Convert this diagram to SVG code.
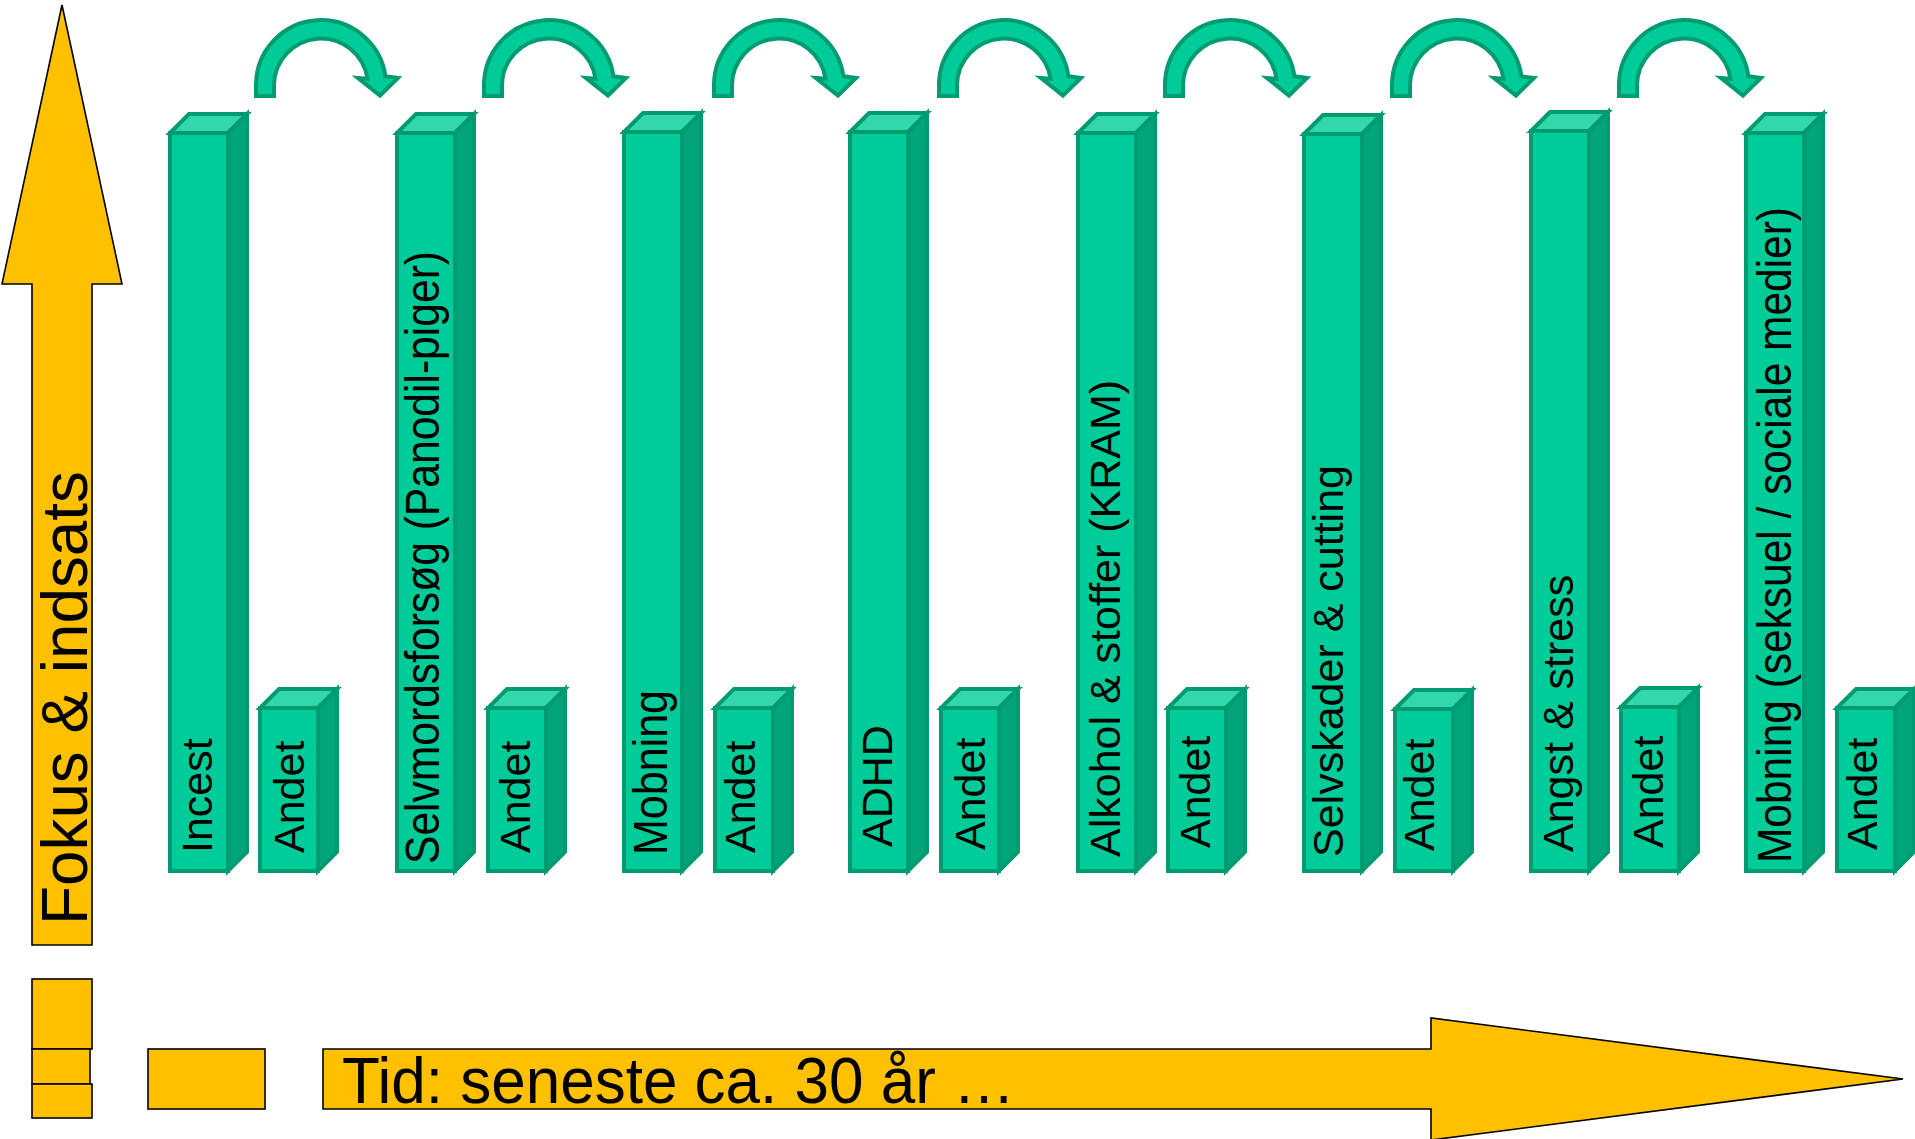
<svg xmlns="http://www.w3.org/2000/svg" width="1915" height="1139" viewBox="0 0 1915 1139">
<style>
.front{fill:#00CC99;stroke:#009B70;stroke-width:4;stroke-linejoin:miter}
.top{fill:#33D8AA;stroke:#009B70;stroke-width:4;stroke-linejoin:miter}
.side{fill:#00A67A;stroke:#009B70;stroke-width:4;stroke-linejoin:miter}
.carrow{fill:#00CC99;stroke:#009B70;stroke-width:4;stroke-linejoin:miter}
.yel{fill:#FFC000;stroke:#000;stroke-width:1.6}
.lbl{font-family:"Liberation Sans",Arial,sans-serif;font-size:43px;fill:#000}
.lblc{font-family:"Liberation Sans",Arial,sans-serif;font-size:48px;fill:#000}
.big{font-family:"Liberation Sans",Arial,sans-serif;font-size:64px;fill:#000}
</style>
<defs>
<path id="carr" class="carrow" d="M 2 96 L 2 85.3 A 65 65 0 0 1 131.4 76.3 L 144 78 L 126 95.5 L 104 78 L 113.5 78.8 A 47 47 0 0 0 20 85.3 L 20 96 Z"/>
</defs>

<g id="axis-y">
<polygon class="yel" points="62,5 122,284 92,284 92,945 32,945 32,284 2,284"/>
<text class="big" transform="translate(87,925) rotate(-90)" textLength="454" lengthAdjust="spacingAndGlyphs">Fokus &amp; indsats</text>
</g>

<g id="blocks">
<rect class="yel" x="32" y="979" width="60" height="70"/>
<rect class="yel" x="32" y="1049" width="58" height="35"/>
<rect class="yel" x="32" y="1084" width="60" height="34"/>
<rect class="yel" x="148" y="1049" width="117" height="60"/>
</g>

<g id="axis-x">
<polygon class="yel" points="323,1049 1431,1049 1431,1018 1903,1079 1431,1140 1431,1109 323,1109"/>
<text class="big" x="342" y="1103" textLength="673" lengthAdjust="spacingAndGlyphs">Tid: seneste ca. 30 år …</text>
</g>

<g id="bar-incest">
<rect class="front" x="170" y="133" width="58" height="738"/>
<polygon class="top" points="170,133 189,114 247,114 228,133"/>
<polygon class="side" points="228,133 247,114 247,852 228,871"/>
<text class="lbl" transform="translate(212,853) rotate(-90)">Incest</text>
</g>
<g id="bar-andet-1">
<rect class="front" x="260" y="708" width="58" height="163"/>
<polygon class="top" points="260,708 279,689 337,689 318,708"/>
<polygon class="side" points="318,708 337,689 337,852 318,871"/>
<text class="lbl" transform="translate(304,853) rotate(-90)">Andet</text>
</g>

<g id="bar-selvmord">
<rect class="front" x="397" y="133" width="58" height="738"/>
<polygon class="top" points="397,133 416,114 474,114 455,133"/>
<polygon class="side" points="455,133 474,114 474,852 455,871"/>
<text class="lblc" transform="translate(439,864) rotate(-90)" textLength="613" lengthAdjust="spacingAndGlyphs">Selvmordsforsøg (Panodil-piger)</text>
</g>
<g id="bar-andet-2">
<rect class="front" x="488" y="708" width="58" height="163"/>
<polygon class="top" points="488,708 507,689 565,689 546,708"/>
<polygon class="side" points="546,708 565,689 565,852 546,871"/>
<text class="lbl" transform="translate(530,853) rotate(-90)">Andet</text>
</g>

<g id="bar-mobning">
<rect class="front" x="624" y="132" width="58" height="739"/>
<polygon class="top" points="624,132 643,113 701,113 682,132"/>
<polygon class="side" points="682,132 701,113 701,852 682,871"/>
<text class="lblc" transform="translate(667,855) rotate(-90)" textLength="165" lengthAdjust="spacingAndGlyphs">Mobning</text>
</g>
<g id="bar-andet-3">
<rect class="front" x="715" y="708" width="58" height="163"/>
<polygon class="top" points="715,708 734,689 792,689 773,708"/>
<polygon class="side" points="773,708 792,689 792,852 773,871"/>
<text class="lbl" transform="translate(755,853) rotate(-90)">Andet</text>
</g>

<g id="bar-adhd">
<rect class="front" x="850" y="132" width="58" height="739"/>
<polygon class="top" points="850,132 869,113 927,113 908,132"/>
<polygon class="side" points="908,132 927,113 927,852 908,871"/>
<text class="lbl" transform="translate(892,847) rotate(-90)">ADHD</text>
</g>
<g id="bar-andet-4">
<rect class="front" x="941" y="708" width="58" height="163"/>
<polygon class="top" points="941,708 960,689 1018,689 999,708"/>
<polygon class="side" points="999,708 1018,689 1018,852 999,871"/>
<text class="lbl" transform="translate(985,850) rotate(-90)">Andet</text>
</g>

<g id="bar-alkohol">
<rect class="front" x="1078" y="133" width="58" height="738"/>
<polygon class="top" points="1078,133 1097,114 1155,114 1136,133"/>
<polygon class="side" points="1136,133 1155,114 1155,852 1136,871"/>
<text class="lbl" transform="translate(1120,857) rotate(-90)">Alkohol &amp; stoffer (KRAM)</text>
</g>
<g id="bar-andet-5">
<rect class="front" x="1168" y="708" width="58" height="163"/>
<polygon class="top" points="1168,708 1187,689 1245,689 1226,708"/>
<polygon class="side" points="1226,708 1245,689 1245,852 1226,871"/>
<text class="lbl" transform="translate(1210,848) rotate(-90)">Andet</text>
</g>

<g id="bar-selvskader">
<rect class="front" x="1304" y="134" width="58" height="737"/>
<polygon class="top" points="1304,134 1323,115 1381,115 1362,134"/>
<polygon class="side" points="1362,134 1381,115 1381,852 1362,871"/>
<text class="lbl" transform="translate(1343,857) rotate(-90)">Selvskader &amp; cutting</text>
</g>
<g id="bar-andet-6">
<rect class="front" x="1395" y="709" width="58" height="162"/>
<polygon class="top" points="1395,709 1414,690 1472,690 1453,709"/>
<polygon class="side" points="1453,709 1472,690 1472,852 1453,871"/>
<text class="lbl" transform="translate(1434,851) rotate(-90)">Andet</text>
</g>

<g id="bar-angst">
<rect class="front" x="1531" y="131" width="58" height="740"/>
<polygon class="top" points="1531,131 1550,112 1608,112 1589,131"/>
<polygon class="side" points="1589,131 1608,112 1608,852 1589,871"/>
<text class="lbl" transform="translate(1573,852) rotate(-90)">Angst &amp; stress</text>
</g>
<g id="bar-andet-7">
<rect class="front" x="1621" y="707" width="58" height="164"/>
<polygon class="top" points="1621,707 1640,688 1698,688 1679,707"/>
<polygon class="side" points="1679,707 1698,688 1698,852 1679,871"/>
<text class="lbl" transform="translate(1663,848) rotate(-90)">Andet</text>
</g>

<g id="bar-mobning-2">
<rect class="front" x="1746" y="133" width="58" height="738"/>
<polygon class="top" points="1746,133 1765,114 1823,114 1804,133"/>
<polygon class="side" points="1804,133 1823,114 1823,852 1804,871"/>
<text class="lblc" transform="translate(1791,863) rotate(-90)" textLength="656" lengthAdjust="spacingAndGlyphs">Mobning (seksuel / sociale medier)</text>
</g>
<g id="bar-andet-8">
<rect class="front" x="1837" y="708" width="58" height="163"/>
<polygon class="top" points="1837,708 1856,689 1914,689 1895,708"/>
<polygon class="side" points="1895,708 1914,689 1914,852 1895,871"/>
<text class="lbl" transform="translate(1877,850) rotate(-90)">Andet</text>
</g>

<g id="connectors">
<use href="#carr" transform="translate(254,0)"/>
<use href="#carr" transform="translate(482,0)"/>
<use href="#carr" transform="translate(712,0)"/>
<use href="#carr" transform="translate(937,0)"/>
<use href="#carr" transform="translate(1163,0)"/>
<use href="#carr" transform="translate(1390,0)"/>
<use href="#carr" transform="translate(1617,0)"/>
</g>
</svg>
